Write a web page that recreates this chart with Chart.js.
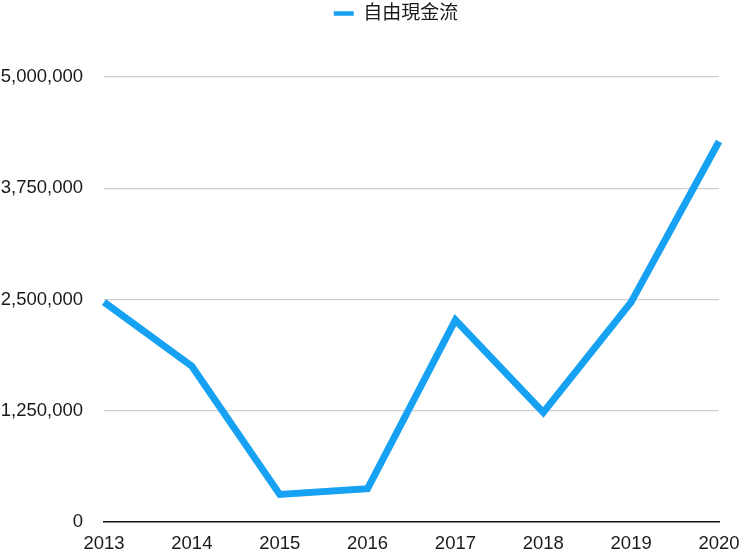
<!DOCTYPE html>
<html>
<head>
<meta charset="utf-8">
<script src="https://cdn.jsdelivr.net/npm/chart.js@4/dist/chart.umd.min.js"></script>
<style>
    html, body { margin: 0; padding: 0; background: #fff; }
    #wrap { width: 740px; height: 551px; position: relative; }
</style>
</head>
<body>
<div id="wrap"><canvas id="fcfChart"></canvas></div>
<script>
    // data
    const years = ['2013', '2014', '2015', '2016', '2017', '2018', '2019', '2020'];
    const freeCashFlow = [2470000, 1750000, 310000, 375000, 2270000, 1230000, 2470000, 4275000];
    const seriesName = '自由現金流';
    const yTicks = [0, 1250000, 2500000, 3750000, 5000000];

    const lineColor = '#17a1f2';
    const textColor = '#1a1a1a';
    const fontFamily = '"Helvetica Neue", Helvetica, "Liberation Sans", Arial, "Noto Sans CJK TC", sans-serif';

    // push the plot down below the legend, and nudge the legend a bit right
    const legendTweaks = {
        id: 'legendTweaks',
        beforeInit: function (chart) {
            const origFit = chart.legend.fit;
            chart.legend.fit = function () {
                origFit.bind(chart.legend)();
                this.height += 44;
            };
        },
        beforeDraw: function (chart) {
            chart.legend.left += 26;
            chart.legend.right += 26;
        }
    };

    new Chart(document.getElementById('fcfChart'), {
        type: 'line',
        data: {
            labels: years,
            datasets: [{
                label: seriesName,
                data: freeCashFlow,
                borderColor: lineColor,
                backgroundColor: lineColor,
                borderWidth: 7,
                pointRadius: 0,
                tension: 0,
                borderJoinStyle: 'miter'
            }]
        },
        options: {
            responsive: true,
            maintainAspectRatio: false,
            animation: false,
            layout: { padding: { top: 0, left: 0, right: 0, bottom: 0 } },
            plugins: {
                legend: {
                    position: 'top',
                    labels: {
                        usePointStyle: true,
                        pointStyleWidth: 20,
                        font: { family: fontFamily, size: 19 },
                        color: textColor,
                        padding: 4,
                        generateLabels: function (chart) {
                            return chart.data.datasets.map(function (ds, i) {
                                return {
                                    text: ds.label,
                                    pointStyle: 'line',
                                    strokeStyle: lineColor,
                                    fillStyle: lineColor,
                                    lineWidth: 4.5,
                                    fontColor: textColor,
                                    datasetIndex: i
                                };
                            });
                        }
                    }
                },
                tooltip: { enabled: false }
            },
            scales: {
                x: {
                    offset: false,
                    afterFit: function (scale) {
                        scale.height = 29;
                        scale.paddingRight = 21;
                        scale.paddingLeft = 0;
                    },
                    grid: { display: false, drawTicks: false },
                    border: { display: true, color: '#111', width: 1.5 },
                    ticks: {
                        color: textColor,
                        font: { family: fontFamily, size: 18.5, lineHeight: 1 },
                        padding: 13,
                        maxRotation: 0,
                        autoSkip: false
                    }
                },
                y: {
                    min: 0,
                    max: 5000000,
                    afterBuildTicks: function (scale) {
                        scale.ticks = yTicks.map(function (v) { return { value: v }; });
                    },
                    afterFit: function (scale) {
                        scale.width = 104;
                        scale.paddingTop = 0;
                        scale.paddingBottom = 0;
                    },
                    grid: {
                        color: function (ctx) { return ctx.tick.value === 0 ? 'rgba(0,0,0,0)' : '#d0d0d0'; },
                        lineWidth: 1.2,
                        drawTicks: false
                    },
                    border: { display: false },
                    ticks: {
                        color: textColor,
                        font: { family: fontFamily, size: 18.5 },
                        padding: 21,
                        callback: function (v) { return Number(v).toLocaleString('en-US'); }
                    }
                }
            }
        },
        plugins: [legendTweaks]
    });
</script>
</body>
</html>
